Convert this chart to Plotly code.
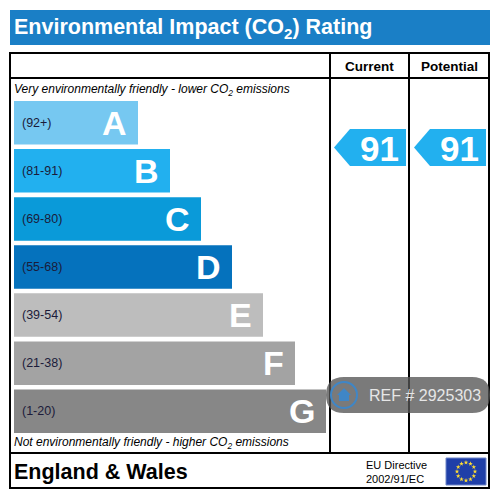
import math
import plotly.graph_objects as go

# rating bands (best -> worst)
bands = ["A", "B", "C", "D", "E", "F", "G"]
band_ranges = ["(92+)", "(81-91)", "(69-80)", "(55-68)", "(39-54)", "(21-38)", "(1-20)"]
band_len = [124, 156, 187, 218, 249, 281, 312]
band_colors = ["#76c8f1", "#22b0ef", "#0a9ad9", "#0572bd", "#bdbdbd", "#a3a3a3", "#878787"]

current = 91
potential = 91
ref_no = "REF # 2925303"

FONT = "Liberation Sans, Arial, sans-serif"
BAR_X0 = 14

fig = go.Figure()

fig.add_trace(go.Bar(
    y=bands, x=band_len, base=BAR_X0, orientation="h",
    marker=dict(color=band_colors, line=dict(width=0)),
    xaxis="x", yaxis="y2", hoverinfo="skip", showlegend=False,
))

ann = []
for b, r, l in zip(bands, band_ranges, band_len):
    ann.append(dict(x=20, y=b, xref="x", yref="y2", text=r, showarrow=False,
                    xanchor="left", yanchor="middle",
                    font=dict(family=FONT, size=12.5, color="#1b1b3a")))
    ann.append(dict(x=BAR_X0 + l - 9, y=b, xref="x", yref="y2", text="<b>%s</b>" % b,
                    showarrow=False, xanchor="right", yanchor="middle",
                    font=dict(family=FONT, size=34, color="white")))

shapes = []
line = dict(color="black", width=2)
# title bar
shapes.append(dict(type="rect", x0=10, x1=490, y0=10, y1=45, xref="x", yref="y",
                   fillcolor="#1a7fc6", line=dict(width=0), layer="below"))
# table
shapes.append(dict(type="rect", x0=10, x1=489, y0=53, y1=488, xref="x", yref="y", line=line))
shapes.append(dict(type="line", x0=10, x1=489, y0=78, y1=78, xref="x", yref="y", line=line))
shapes.append(dict(type="line", x0=10, x1=489, y0=453, y1=453, xref="x", yref="y", line=line))
for xv in (330, 409):
    shapes.append(dict(type="line", x0=xv, x1=xv, y0=53, y1=453, xref="x", yref="y", line=line))

# rating arrows
arrow_col = band_colors[1]
for tip, right, val in ((334, 406, current), (414, 486, potential)):
    yc, h = 147.5, 18.5
    path = "M %d %.1f L %d %.1f L %d %.1f L %d %.1f L %d %.1f Z" % (
        tip, yc, tip + 16, yc - h, right, yc - h, right, yc + h, tip + 16, yc + h)
    shapes.append(dict(type="path", path=path, xref="x", yref="y",
                       fillcolor=arrow_col, line=dict(width=0)))
    ann.append(dict(x=right - 5, y=yc + 1, xref="x", yref="y", text="<b>%d</b>" % val,
                    showarrow=False, xanchor="right", yanchor="middle",
                    font=dict(family=FONT, size=35, color="white")))

# EU flag
shapes.append(dict(type="rect", x0=446, x1=486, y0=458, y1=485, xref="x", yref="y",
                   fillcolor="#1f3fa8", line=dict(color="#6f86c8", width=1), layer="below"))
sx = [466 + 9 * math.cos(k * math.pi / 6) for k in range(12)]
sy = [471.5 + 9 * math.sin(k * math.pi / 6) for k in range(12)]
fig.add_trace(go.Scatter(x=sx, y=sy, mode="markers", xaxis="x", yaxis="y",
                         marker=dict(symbol="star", size=3.5, color="#ffdd33", line=dict(width=0)),
                         hoverinfo="skip", showlegend=False))

# watermark pill
shapes.append(dict(type="path", xref="x", yref="y",
                   path="M 344 377 L 472 377 Q 490 377 490 395 Q 490 413 472 413 "
                        "L 344 413 Q 326 413 326 395 Q 326 377 344 377 Z",
                   fillcolor="rgba(85,85,85,0.78)", line=dict(width=0)))
shapes.append(dict(type="circle", x0=331, x1=357, y0=382, y1=408, xref="x", yref="y",
                   line=dict(color="#3f86c6", width=2)))
shapes.append(dict(type="path", xref="x", yref="y",
                   path="M 344 388 L 351 395 L 349 395 L 349 401 L 339 401 L 339 395 L 337 395 Z",
                   fillcolor="#3f86c6", line=dict(width=0)))
ann.append(dict(x=367, y=395, xref="x", yref="y", text=ref_no, showarrow=False,
                xanchor="left", yanchor="middle",
                font=dict(family=FONT, size=16, color="#e6e6e6")))

texts = [
    (12, 28, "<b>Environmental Impact (CO<sub>2</sub>) Rating</b>", 21.5, "white", "left"),
    (369.5, 66, "<b>Current</b>", 13.5, "black", "center"),
    (449, 66, "<b>Potential</b>", 13.5, "black", "center"),
    (12, 90, "<i>Very environmentally friendly - lower CO<sub>2</sub> emissions</i>", 12, "black", "left"),
    (12, 443, "<i>Not environmentally friendly - higher CO<sub>2</sub> emissions</i>", 12, "black", "left"),
    (12, 472, "<b>England &amp; Wales</b>", 21.5, "black", "left"),
    (364, 465, "EU Directive", 11, "black", "left"),
    (364, 479, "2002/91/EC", 11, "black", "left"),
]
for x, y, t, s, c, xa in texts:
    ann.append(dict(x=x, y=y, xref="x", yref="y", text=t, showarrow=False,
                    xanchor=xa, yanchor="middle", font=dict(family=FONT, size=s, color=c)))

fig.update_layout(
    width=499, height=499, margin=dict(l=0, r=0, t=0, b=0),
    paper_bgcolor="white", plot_bgcolor="white",
    bargap=0.095,
    xaxis=dict(range=[0, 499], visible=False, fixedrange=True),
    yaxis=dict(range=[499, 0], visible=False, domain=[0, 1], fixedrange=True),
    yaxis2=dict(categoryorder="array", categoryarray=bands, range=[6.5, -0.5],
                domain=[0.1276, 0.8022], anchor="x", visible=False, fixedrange=True),
    shapes=shapes, annotations=ann,
)

fig.write_html("out.html", config={"displayModeBar": False},
               post_script="document.body.style.margin='0px';")
